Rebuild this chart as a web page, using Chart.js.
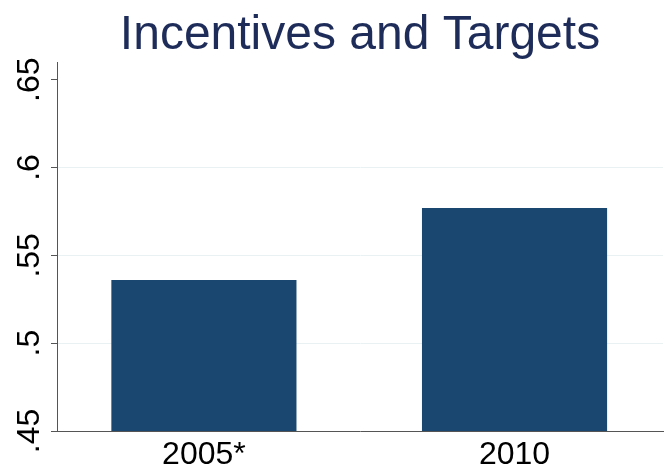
<!DOCTYPE html>
<html>
<head>
<meta charset="utf-8">
<script src="https://cdn.jsdelivr.net/npm/chart.js@4.4.1/dist/chart.umd.min.js"></script>
<style>
  html, body { margin: 0; padding: 0; background: #fff; }
  #wrap { width: 665px; height: 466px; position: relative; }
</style>
</head>
<body>
<div id="wrap"><canvas id="myChart"></canvas></div>
<script>
const categories = ['2005*', '2010']
const shares = [0.536, 0.577]
const yTicks = [0.45, 0.5, 0.55, 0.6, 0.65]

const navy = '#1a476f'
const titleColor = '#1e2c5a'
const fontFamily = '"Liberation Sans", Arial, Helvetica, sans-serif'

const ctx = document.getElementById('myChart')

new Chart(ctx, {
    type: 'bar',
    data: {
        datasets: [{
            data: shares.map((v, i) => ({ x: i + 1, y: v })),
            backgroundColor: navy,
            borderWidth: 0,
            barPercentage: 0.596,
            categoryPercentage: 1
        }]
    },
    options: {
        responsive: true,
        maintainAspectRatio: false,
        animation: false,
        layout: { padding: { top: 0, right: 2, bottom: 0, left: 0 } },
        plugins: {
            legend: { display: false },
            tooltip: { enabled: false },
            title: {
                display: true,
                text: 'Incentives and Targets',
                color: titleColor,
                fullSize: false,
                font: { family: fontFamily, size: 48, weight: 'normal' },
                padding: { top: 7, bottom: -2 }
            }
        },
        scales: {
            x: {
                type: 'linear',
                offset: false,
                min: 0.527,
                max: 2.478,
                grid: { display: false },
                border: { display: true, color: '#555', width: 1 },
                afterBuildTicks: scale => {
                    scale.ticks = categories.map((c, i) => ({ value: i + 1 }))
                },
                afterFit: scale => { scale.height = 35 },
                ticks: {
                    color: '#000',
                    padding: 0,
                    maxRotation: 0,
                    font: { family: fontFamily, size: 32, lineHeight: 1 },
                    callback: v => categories[v - 1]
                }
            },
            y: {
                min: 0.45,
                max: 0.6597,
                grid: {
                    color: c => (c.tick && (c.tick.value === 0.45 || c.tick.value === 0.65)) ? 'rgba(0,0,0,0)' : '#eaf1f3',
                    tickColor: '#555',
                    tickLength: 6,
                    lineWidth: 1
                },
                border: { display: true, color: '#555', width: 1 },
                afterBuildTicks: scale => {
                    scale.ticks = yTicks.map(v => ({ value: v }))
                },
                afterFit: scale => { scale.width = 57 },
                ticks: {
                    color: '#000',
                    padding: -1,
                    minRotation: 90,
                    maxRotation: 90,
                    crossAlign: 'center',
                    font: { family: fontFamily, size: 32 },
                    callback: v => String(v).replace(/^0/, '')
                }
            }
        }
    }
})
</script>
</body>
</html>
